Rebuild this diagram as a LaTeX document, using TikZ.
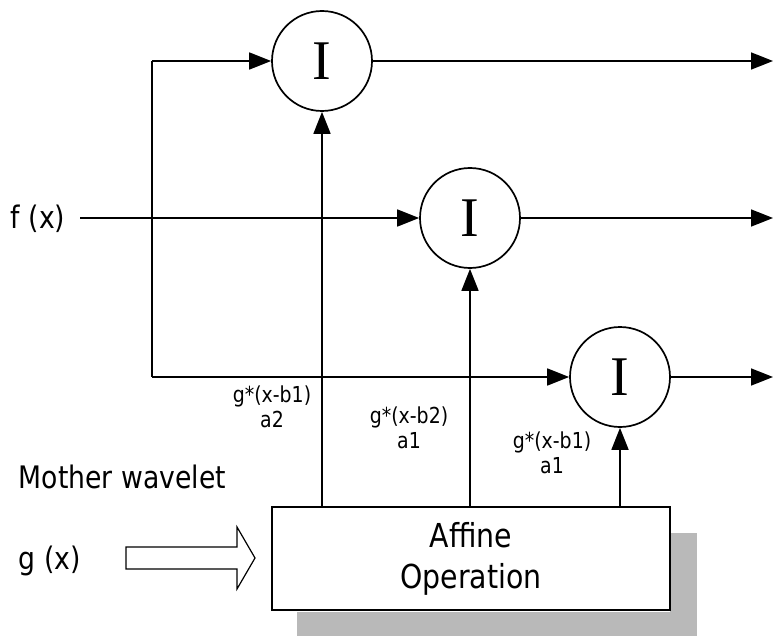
\documentclass[tikz,border=0pt]{standalone}
\usepackage{fontspec}
\setmainfont{DejaVu Sans}[FakeStretch=0.86]
\newfontfamily\serifI{Liberation Serif}
\usetikzlibrary{arrows.meta}
\begin{document}
\begin{tikzpicture}[x=1pt,y=-1pt,
  line width=1.7pt,
  tip/.style={-{Triangle[length=22pt,width=17pt]}},
  integ/.style={circle,draw,fill=white,minimum size=100pt,inner sep=0pt,font=\serifI\fontsize{56}{56}\selectfont},
  bigtxt/.style={font=\fontsize{31}{36}\selectfont,inner sep=0pt,anchor=base west},
  lbl/.style={font=\fontsize{22}{25}\selectfont,align=center,inner sep=0pt,anchor=base},
  shadowfill/.style={fill=gray!55,draw=none}]
\useasboundingbox (0,0) rectangle (781,639);
% shadow
\fill[shadowfill] (297,612) rectangle (697,636);
\fill[shadowfill] (670,533) rectangle (697,636);
% nodes
\node[integ] (c1) at (322,61) {I};
\node[integ] (c2) at (470,218) {I};
\node[integ] (c3) at (620,377) {I};
\node[draw,fill=white,minimum width=398pt,minimum height=103pt,inner sep=0pt,align=center,
      font=\fontsize{33}{41}\selectfont] (box) at (471,558.5) {Affine\\Operation};
\node[bigtxt] (fx) at (10,228) {f (x)};
\node[bigtxt] (mw) at (18,488) {Mother wavelet};
\node[bigtxt] (gx) at (18,569) {g (x)};
\node[lbl] (l1) at (272,427) {g*(x-b1)\\a2};
\node[lbl] (l2) at (409,448) {g*(x-b2)\\a1};
\node[lbl] (l3) at (552,473) {g*(x-b1)\\a1};
% coordinates
\coordinate (fs) at (80,218);
\coordinate (j1) at (152,61);
\coordinate (j3) at (152,377);
\coordinate (o1) at (773,61);
\coordinate (o2) at (773,218);
\coordinate (o3) at (773,377);
% connectors
\draw[tip] (fs) -- (c2.west);
\draw (j1) -- (j3);
\draw[tip] (j1) -- (c1.west);
\draw[tip] (j3) -- (c3.west);
\draw[tip] (c1.east) -- (o1);
\draw[tip] (c2.east) -- (o2);
\draw[tip] (c3.east) -- (o3);
\draw[tip] (box.north -| c1) -- (c1.south);
\draw[tip] (box.north -| c2) -- (c2.south);
\draw[tip] (box.north -| c3) -- (c3.south);
% hollow arrow
\draw[line width=1.2pt,line join=miter] (126,547) -- (237,547) -- (237,527) -- (255,558) -- (237,589) -- (237,569) -- (126,569) -- cycle;
\end{tikzpicture}
\end{document}
